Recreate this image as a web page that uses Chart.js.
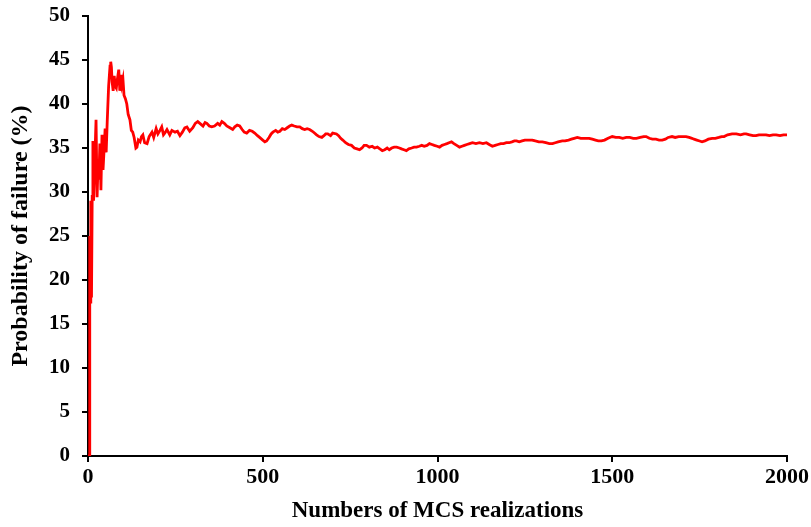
<!DOCTYPE html>
<html lang="en">
<head>
    <meta charset="UTF-8">
    <title>Probability of failure convergence</title>
    <script src="https://cdn.jsdelivr.net/npm/chart.js@4"></script>
    <style>
        html, body { margin: 0; padding: 0; background: #fff; }
        .chart-box { width: 811px; height: 527px; }
    </style>
</head>
<body>
    <div class="chart-box">
        <canvas id="pfChart"></canvas>
    </div>

    <script>
        // number of Monte Carlo realizations
        const realizations = [
            0, 3, 5, 6, 8, 10, 12, 14, 16, 19, 23, 26, 29, 31, 34, 37, 40, 43, 46, 49,
            52, 55, 59, 63, 65, 67, 69, 72, 75, 78, 81, 84, 88, 91, 94, 97, 100, 103, 107, 111,
            115, 120, 124, 128, 132, 137, 140, 144, 149, 153, 157, 162, 169, 175, 183, 188, 195, 200, 206, 211,
            216, 220, 226, 234, 240, 249, 256, 263, 270, 277, 283, 291, 300, 307, 314, 320, 329, 335, 340, 347,
            354, 362, 371, 377, 383, 390, 397, 406, 414, 420, 427, 434, 441, 447, 454, 462, 470, 477, 485, 491,
            500, 506, 511, 518, 524, 529, 537, 543, 549, 556, 563, 570, 577, 583, 590, 598, 606, 613, 620, 627,
            634, 642, 648, 654, 661, 669, 675, 680, 686, 694, 700, 711, 717, 723, 729, 737, 745, 754, 762, 770,
            777, 784, 790, 797, 805, 813, 820, 828, 835, 842, 849, 856, 862, 869, 876, 883, 891, 897, 904, 911,
            918, 926, 933, 940, 948, 955, 962, 970, 977, 984, 991, 999, 1006, 1013, 1020, 1027, 1033, 1040, 1047, 1055,
            1063, 1070, 1077, 1084, 1092, 1100, 1110, 1120, 1130, 1140, 1148, 1157, 1165, 1173, 1181, 1189, 1197, 1205, 1213, 1220,
            1226, 1234, 1242, 1250, 1258, 1266, 1271, 1280, 1290, 1300, 1310, 1320, 1329, 1337, 1345, 1357, 1365, 1375, 1383, 1391,
            1400, 1410, 1420, 1434, 1443, 1452, 1460, 1469, 1478, 1488, 1500, 1510, 1520, 1530, 1540, 1550, 1560, 1569, 1580, 1590,
            1597, 1606, 1615, 1625, 1634, 1643, 1652, 1660, 1671, 1680, 1690, 1700, 1711, 1720, 1728, 1734, 1742, 1750, 1757, 1765,
            1775, 1786, 1795, 1805, 1813, 1820, 1830, 1843, 1855, 1867, 1877, 1883, 1893, 1903, 1911, 1920, 1930, 1940, 1950, 1960,
            1969, 1980, 1990, 2000
        ];

        // running estimate of the probability of failure (%)
        const pfPercent = [
            0, 0, 25, 17.5, 29, 18, 29.5, 35.8, 29, 33, 38.2, 29.4, 33.5, 31.4, 35.5, 30.2, 36.5, 32.5, 34.8, 37.2,
            34.5, 38, 42, 44.3, 44.8, 44.2, 42.5, 41.5, 43.2, 42, 41.8, 42.8, 43.9, 41.5, 43.3, 42.2, 42.8, 41, 40.6, 40,
            38.8, 38.2, 37, 36.8, 36.2, 35.0, 35.1, 35.9, 35.7, 36.3, 36.5, 35.6, 35.5, 36.3, 36.8, 36.2, 37.2, 36.6, 37.0, 37.4,
            36.5, 36.7, 37.1, 36.5, 37.0, 36.8, 36.9, 36.4, 36.8, 37.3, 37.4, 36.9, 37.3, 37.8, 38.0, 37.8, 37.5, 37.9, 37.8, 37.5,
            37.4, 37.5, 37.8, 37.6, 38.0, 37.8, 37.5, 37.3, 37.1, 37.4, 37.6, 37.5, 37.1, 36.8, 36.7, 37.0, 36.9, 36.7, 36.4, 36.2,
            35.9, 35.7, 35.8, 36.2, 36.6, 36.8, 37.0, 36.8, 36.9, 37.2, 37.1, 37.3, 37.5, 37.6, 37.5, 37.4, 37.4, 37.2, 37.1, 37.2,
            37.1, 36.9, 36.7, 36.5, 36.3, 36.2, 36.4, 36.6, 36.6, 36.4, 36.7, 36.6, 36.4, 36.1, 35.9, 35.6, 35.4, 35.3, 35.0, 34.9,
            34.8, 35.0, 35.3, 35.3, 35.1, 35.2, 35.0, 35.1, 34.9, 34.7, 34.8, 35.0, 34.8, 35.0, 35.1, 35.1, 35.0, 34.9, 34.8, 34.7,
            34.9, 35.0, 35.1, 35.1, 35.2, 35.3, 35.2, 35.3, 35.5, 35.4, 35.3, 35.2, 35.1, 35.3, 35.4, 35.5, 35.6, 35.7, 35.5, 35.3,
            35.1, 35.2, 35.3, 35.4, 35.5, 35.6, 35.5, 35.6, 35.5, 35.6, 35.4, 35.2, 35.3, 35.4, 35.5, 35.5, 35.6, 35.6, 35.7, 35.8,
            35.8, 35.7, 35.8, 35.9, 35.9, 35.9, 35.9, 35.8, 35.7, 35.7, 35.6, 35.5, 35.5, 35.6, 35.7, 35.8, 35.8, 35.9, 36.0, 36.1,
            36.2, 36.1, 36.1, 36.1, 36.0, 35.9, 35.8, 35.8, 35.9, 36.1, 36.3, 36.2, 36.2, 36.1, 36.2, 36.2, 36.1, 36.1, 36.2, 36.3,
            36.3, 36.1, 36.0, 36.0, 35.9, 35.9, 36.0, 36.2, 36.3, 36.2, 36.3, 36.3, 36.3, 36.2, 36.1, 36.0, 35.9, 35.8, 35.7, 35.8,
            36.0, 36.1, 36.1, 36.2, 36.3, 36.3, 36.5, 36.6, 36.6, 36.5, 36.6, 36.6, 36.5, 36.4, 36.4, 36.5, 36.5, 36.5, 36.4, 36.5,
            36.5, 36.4, 36.5, 36.5
        ];

        const xTicks = [0, 500, 1000, 1500, 2000];
        const yTicks = [0, 5, 10, 15, 20, 25, 30, 35, 40, 45, 50];

        const points = realizations.map((r, i) => ({ x: r, y: pfPercent[i] }));
        const serif = "'Liberation Serif', 'Times New Roman', serif";
        const font = size => ({ family: serif, size: size, weight: 'bold' });

        new Chart(document.getElementById('pfChart'), {
            type: 'line',
            data: {
                datasets: [{
                    data: points,
                    borderColor: '#ff0000',
                    borderWidth: 2.8,
                    pointRadius: 0,
                    tension: 0,
                    fill: false
                }]
            },
            options: {
                responsive: true,
                maintainAspectRatio: false,
                animation: false,
                layout: { padding: { top: 16, right: 23, left: 0, bottom: 0 } },
                plugins: {
                    legend: { display: false },
                    tooltip: { enabled: false }
                },
                scales: {
                    x: {
                        type: 'linear',
                        min: 0,
                        max: 2000,
                        afterBuildTicks: s => { s.ticks = xTicks.map(v => ({ value: v })); },
                        afterFit: s => { s.height = 71; },
                        border: { display: true, color: '#000', width: 2 },
                        grid: { drawOnChartArea: false, drawTicks: true, tickLength: 6, color: '#000', lineWidth: 2 },
                        ticks: { color: '#000', font: font(22), padding: 2, maxRotation: 0, callback: v => String(v) },
                        title: {
                            display: true,
                            text: 'Numbers of MCS realizations',
                            color: '#000',
                            font: font(23),
                            padding: { top: 0, bottom: 2 }
                        }
                    },
                    y: {
                        min: 0,
                        max: 50,
                        afterBuildTicks: s => { s.ticks = yTicks.map(v => ({ value: v })); },
                        // fixed axis width; no extra room reserved for the top label
                        afterFit: s => { s.width = 88; s.paddingTop = 0; s.paddingBottom = 0; },
                        border: { display: true, color: '#000', width: 2 },
                        grid: { drawOnChartArea: false, drawTicks: true, tickLength: 6, color: '#000', lineWidth: 2 },
                        ticks: { color: '#000', font: font(21), padding: 12, callback: v => String(v) },
                        title: {
                            display: true,
                            text: 'Probability of failure (%)',
                            color: '#000',
                            font: font(24),
                            padding: { top: 6, bottom: 0 }
                        }
                    }
                }
            }
        });
    </script>
</body>
</html>
